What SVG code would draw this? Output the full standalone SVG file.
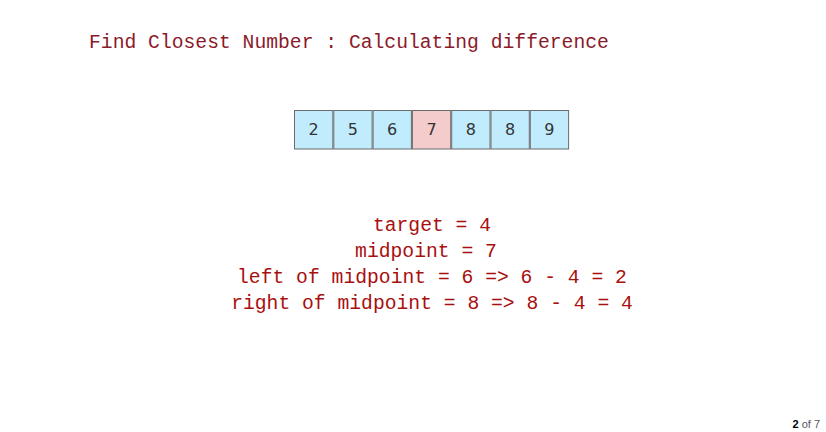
<svg xmlns="http://www.w3.org/2000/svg" width="826" height="432" viewBox="0 0 826 432">
<style>
.t{font-family:"Liberation Mono",monospace;font-size:19.7px;fill:#a80f0f}
.c{fill:#c0ecfd;stroke:#6b6b6b;stroke-width:1}
.m{fill:#f4cccc;stroke:#6b6b6b;stroke-width:1}
.d{font-family:"DejaVu Sans","Noto Sans",sans-serif;font-size:16px;fill:#333;text-anchor:middle}
</style>
<rect width="826" height="432" fill="#fff"/>
<text class="t" x="89" y="48" style="fill:#8b1a2a">Find Closest Number : Calculating difference</text>
<g id="array">
<g id="n0"><rect class="c" x="294.5" y="110.5" width="38.3" height="38.5"/><text class="d" x="313.6" y="135">2</text></g>
<g id="n1"><rect class="c" x="333.8" y="110.5" width="38.3" height="38.5"/><text class="d" x="352.9" y="135">5</text></g>
<g id="n2"><rect class="c" x="373.1" y="110.5" width="38.3" height="38.5"/><text class="d" x="392.2" y="135">6</text></g>
<g id="n3"><rect class="m" x="412.4" y="110.5" width="38.3" height="38.5"/><text class="d" x="431.5" y="135">7</text></g>
<g id="n4"><rect class="c" x="451.7" y="110.5" width="38.3" height="38.5"/><text class="d" x="470.8" y="135">8</text></g>
<g id="n5"><rect class="c" x="491" y="110.5" width="38.3" height="38.5"/><text class="d" x="510.1" y="135">8</text></g>
<g id="n6"><rect class="c" x="530.3" y="110.5" width="38.3" height="38.5"/><text class="d" x="549.4" y="135">9</text></g>
</g>
<g id="connectors"/>
<g id="info" text-anchor="middle">
<text class="t" x="432" y="231">target = 4</text>
<text class="t" x="426" y="257">midpoint = 7</text>
<text class="t" x="432" y="283">left of midpoint = 6 =&gt; 6 - 4 = 2</text>
<text class="t" x="432" y="309">right of midpoint = 8 =&gt; 8 - 4 = 4</text>
</g>
<text x="820" y="428" text-anchor="end" font-family="Liberation Sans,sans-serif" font-size="11px" fill="#556"><tspan font-weight="bold" fill="#000">2</tspan> of 7</text>
</svg>
